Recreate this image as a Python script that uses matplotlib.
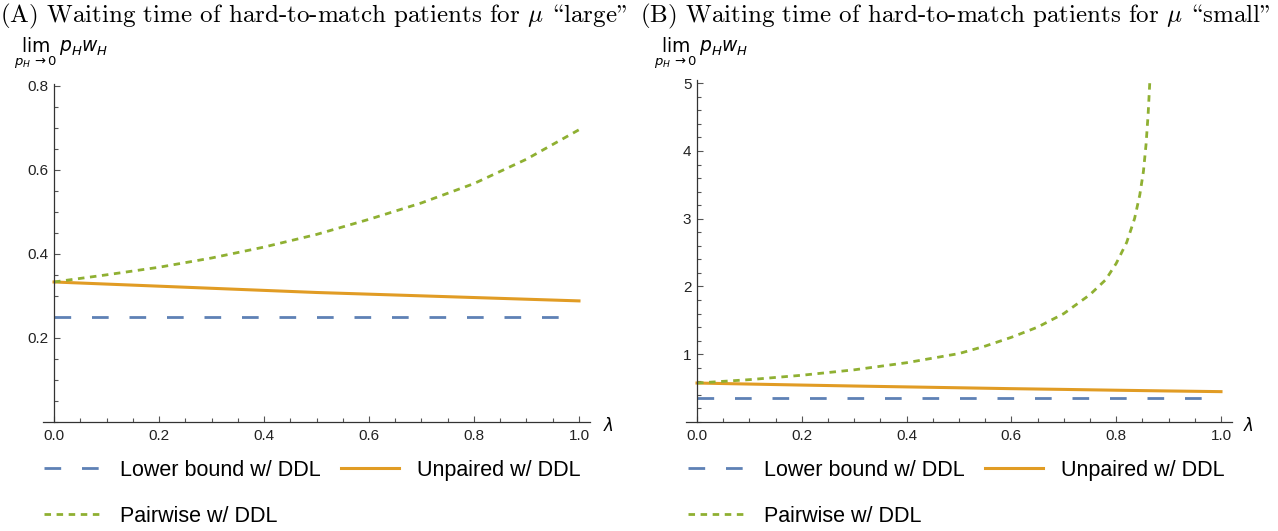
import matplotlib
matplotlib.use("Agg")
import matplotlib.pyplot as plt
from matplotlib.lines import Line2D
from matplotlib.ticker import MultipleLocator


# values
lam = [0.0, 0.1, 0.2, 0.3, 0.4, 0.5, 0.6, 0.7, 0.8, 0.9, 1.0]

large_lower = [0.25] * len(lam)
large_unpaired = [0.333, 0.328, 0.323, 0.318, 0.313, 0.308, 0.304, 0.300, 0.296, 0.292, 0.288]
large_pairwise = [0.333, 0.350, 0.368, 0.390, 0.416, 0.446, 0.482, 0.521, 0.567, 0.625, 0.695]

small_lower = [0.36] * len(lam)
small_unpaired = [0.575, 0.560, 0.545, 0.531, 0.518, 0.505, 0.492, 0.481, 0.469, 0.458, 0.448]
lam_small_pair = [0.0, 0.1, 0.2, 0.3, 0.4, 0.5, 0.55, 0.6, 0.65, 0.7, 0.75, 0.78,
                  0.8, 0.82, 0.835, 0.845, 0.852, 0.857, 0.861, 0.864]
small_pairwise = [0.575, 0.625, 0.69, 0.77, 0.875, 1.01, 1.12, 1.25, 1.40, 1.60, 1.88, 2.10,
                  2.34, 2.65, 3.00, 3.35, 3.70, 4.10, 4.55, 5.0]

# cmr10 uses the TeX text encoding: backslash is the opening and " the closing double quote
titles = [
    "(A) Waiting time of hard-to-match patients for $\\mu$ \\large\"",
    "(B) Waiting time of hard-to-match patients for $\\mu$ \\small\"",
]
labels = ["Lower bound w/ DDL", "Unpaired w/ DDL", "Pairwise w/ DDL"]

BLUE = "#5E81B5"
ORANGE = "#E19C24"
GREEN = "#8FB032"

W, H = 1278, 531

plt.rcParams["font.family"] = ["Liberation Sans", "DejaVu Sans"]
plt.rcParams["mathtext.fontset"] = "dejavusans"
plt.rcParams["xtick.labelsize"] = 11
plt.rcParams["ytick.labelsize"] = 11


def style_axis(ax, ymax, ymajor, yminor):
    ax.set_xlim(-0.021, 1.021)
    ax.set_ylim(0, ymax)
    for side in ["top", "right"]:
        ax.spines[side].set_visible(False)
    ax.spines["left"].set_position(("data", 0))
    ax.spines["left"].set_bounds(0, ymax)
    for side in ["left", "bottom"]:
        ax.spines[side].set_color("#333333")
        ax.spines[side].set_linewidth(0.9)
    ax.xaxis.set_major_locator(MultipleLocator(0.2))
    ax.xaxis.set_minor_locator(MultipleLocator(0.05))
    ax.yaxis.set_major_locator(MultipleLocator(ymajor))
    ax.yaxis.set_minor_locator(MultipleLocator(yminor))
    ax.xaxis.set_major_formatter(lambda v, p: f"{v:.1f}")
    ax.tick_params(which="both", direction="in", color="#555555", width=0.8,
                   labelcolor="#222222")
    ax.tick_params(which="major", length=4.5)
    ax.tick_params(which="minor", length=2.8)
    ax.tick_params(axis="x", pad=5)
    ax.tick_params(axis="y", pad=4)
    yt = [t for t in ax.get_yticks() if 0 < t <= ymax + 1e-9]
    ax.set_yticks(yt)


fig = plt.figure(figsize=(W / 100, H / 100), dpi=100)

ax_a = fig.add_axes([43 / W, 109 / H, 547 / W, 338.5 / H])
ax_b = fig.add_axes([686 / W, 109 / H, 546 / W, 341.5 / H])

blue_ls = (0, (6.0, 7.5))
green_ls = (0, (2.35, 2.0))

ax_a.plot(lam, large_lower, color=BLUE, lw=2.0, ls=blue_ls)
ax_a.plot(lam, large_unpaired, color=ORANGE, lw=2.2)
ax_a.plot(lam, large_pairwise, color=GREEN, lw=2.0, ls=green_ls)
style_axis(ax_a, 0.805, 0.2, 0.05)
ax_a.yaxis.set_major_formatter(lambda v, p: f"{v:.1f}")

ax_b.plot(lam, small_lower, color=BLUE, lw=2.0, ls=blue_ls)
ax_b.plot(lam, small_unpaired, color=ORANGE, lw=2.2)
ax_b.plot(lam_small_pair, small_pairwise, color=GREEN, lw=2.0, ls=green_ls)
style_axis(ax_b, 5.04, 1, 0.2)
ax_b.yaxis.set_major_formatter(lambda v, p: f"{v:.0f}")

for i, ax in enumerate([ax_a, ax_b]):
    x0 = [0, 640][i]
    fig.text(x0 / W, 1 - 16 / H, titles[i], family=["cmr10", "DejaVu Serif"],
             math_fontfamily="cm", fontsize=18, va="center", ha="left")
    fig.text((x0 + 14) / W, 1 - 53 / H, r"$\lim_{p_H\to 0}\, p_H w_H$",
             fontsize=13.5, va="center", ha="left")
    fig.text((x0 + 603) / W, 1 - 425 / H, r"$\lambda$", fontsize=12,
             va="center", ha="left")

    handles = [
        Line2D([], [], color=BLUE, lw=2.0, ls=blue_ls),
        Line2D([], [], color=GREEN, lw=2.0, ls=green_ls),
        Line2D([], [], color=ORANGE, lw=2.2),
    ]
    fig.legend(handles, [labels[0], labels[2], labels[1]], ncol=2,
               loc="upper left", bbox_to_anchor=([44, 688][i] / W, 1 - 460 / H),
               frameon=False, fontsize=15.5, handlelength=2.7, handletextpad=0.85,
               columnspacing=0.9, labelspacing=1.15, borderpad=0, borderaxespad=0)

fig.savefig("out.png", dpi=100)
